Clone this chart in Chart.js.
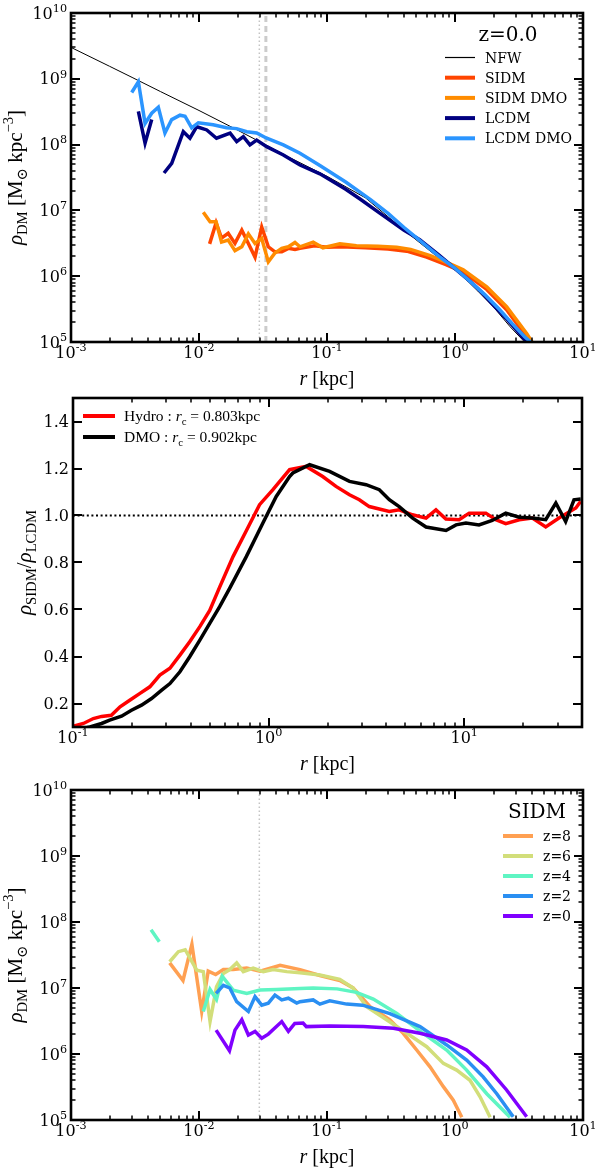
<!DOCTYPE html>
<html>
<head>
<meta charset="utf-8">
<script src="https://cdn.jsdelivr.net/npm/chart.js@4.4.0/dist/chart.umd.min.js"></script>
<style>
html, body { margin: 0; padding: 0; background: #fff; }
#wrap { position: relative; width: 595px; height: 1168px; }
canvas { position: absolute; left: 0; }
</style>
</head>
<body>
<div id="wrap">
  <canvas id="topChart" width="595" height="390" style="top:0px"></canvas>
  <canvas id="midChart" width="595" height="390" style="top:390px"></canvas>
  <canvas id="botChart" width="595" height="388" style="top:780px"></canvas>
</div>
<script>
// ---- top panel: density profiles at z=0 ----
const nfwR   = [0.001, 0.002, 0.003, 0.005, 0.01, 0.02, 0.03, 0.05, 0.1, 0.2, 0.4, 0.7, 1.0, 1.5, 2.0, 2.7, 3.5];
const nfwRho = [3.0e9, 1.55e9, 1.05e9, 6.4e8, 3.3e8, 1.66e8, 1.1e8, 6.5e7, 3.3e7, 1.55e7, 5.0e6, 2.1e6, 1.3e6, 6.0e5, 3.4e5, 1.7e5, 1.0e5];

const sidmR   = [0.0121, 0.0136, 0.0150, 0.0169, 0.0191, 0.0216, 0.0243, 0.0274, 0.0309, 0.0348, 0.0392, 0.0443, 0.0499, 0.0562, 0.0615, 0.08, 0.1, 0.13, 0.2, 0.3, 0.42, 0.6, 0.85, 1.16, 1.77, 2.53, 3.5, 3.95];
const sidmRho = [3.1e6, 6.5e6, 3.8e6, 4.5e6, 3.15e6, 5.0e6, 3.15e6, 1.95e6, 5.6e6, 2.8e6, 2.35e6, 2.35e6, 2.65e6, 2.55e6, 2.65e6, 2.9e6, 2.75e6, 2.8e6, 2.7e6, 2.6e6, 2.4e6, 1.95e6, 1.5e6, 1.15e6, 6.3e5, 3.1e5, 1.3e5, 1.0e5];

const sidmDmoR   = [0.0108, 0.0122, 0.0136, 0.0150, 0.0169, 0.0191, 0.0216, 0.0243, 0.0274, 0.0309, 0.0348, 0.0392, 0.0443, 0.0499, 0.0562, 0.0615, 0.078, 0.093, 0.126, 0.17, 0.25, 0.35, 0.45, 0.64, 0.88, 1.16, 1.77, 2.53, 3.63, 4.0];
const sidmDmoRho = [9.4e6, 6.7e6, 6.7e6, 3.3e6, 3.55e6, 2.45e6, 2.8e6, 4.4e6, 3.15e6, 3.75e6, 1.65e6, 2.25e6, 2.65e6, 2.8e6, 3.25e6, 2.8e6, 3.3e6, 2.7e6, 3.1e6, 2.9e6, 2.85e6, 2.75e6, 2.55e6, 2.05e6, 1.6e6, 1.25e6, 6.9e5, 3.45e5, 1.35e5, 1.0e5];

const lcdmR   = [0.00336, 0.00379, 0.00427, 0.0048, 0.00533, 0.00612, 0.00754, 0.0085, 0.0096, 0.0115, 0.0137, 0.0175, 0.0197, 0.0222, 0.025, 0.0282, 0.0338, 0.0456, 0.0615, 0.088, 0.14, 0.18, 0.26, 0.4, 0.53, 0.75, 1.0, 1.3, 1.6, 2.0, 2.5, 3.0, 3.65];
const lcdmRho = [3.2e8, 1.05e8, 2.4e8, null, 3.7e7, 5.2e7, 1.57e8, 1.25e8, 1.87e8, 1.67e8, 1.25e8, 1.49e8, 1.11e8, 1.32e8, 9.9e7, 1.17e8, 9.3e7, 6.95e7, 4.9e7, 3.6e7, 2.1e7, 1.5e7, 9.0e6, 5.0e6, 3.6e6, 2.1e6, 1.3e6, 8.5e5, 5.8e5, 3.6e5, 2.3e5, 1.55e5, 1.0e5];

const lcdmDmoR   = [0.00298, 0.00336, 0.00379, 0.00427, 0.00481, 0.00542, 0.00612, 0.00711, 0.00778, 0.00877, 0.00988, 0.0129, 0.0164, 0.0197, 0.0236, 0.0282, 0.0338, 0.0456, 0.0615, 0.088, 0.14, 0.22, 0.3, 0.4, 0.55, 0.75, 1.0, 1.3, 1.7, 2.2, 2.8, 3.5, 3.9];
const lcdmDmoRho = [6.2e8, 9.0e8, 2.1e8, 3.0e8, 3.7e8, 1.5e8, 2.4e8, 2.8e8, 2.7e8, 1.8e8, 2.15e8, 2.0e8, 1.8e8, 1.75e8, 1.57e8, 1.5e8, 1.25e8, 9.9e7, 7.4e7, 4.8e7, 2.7e7, 1.45e7, 9.0e6, 5.5e6, 3.3e6, 2.0e6, 1.32e6, 8.5e5, 5.3e5, 3.2e5, 1.9e5, 1.2e5, 1.0e5];

const softR1 = 0.0296;   // dotted marker
const softR2 = 0.0333;   // dashed marker

// ---- middle panel: SIDM / LCDM ratio ----
const hydroR     = [0.1005, 0.113, 0.127, 0.140, 0.157, 0.174, 0.195, 0.220, 0.247, 0.278, 0.313, 0.352, 0.395, 0.445, 0.500, 0.562, 0.658, 0.769, 0.899, 1.052, 1.28, 1.556, 1.89, 2.21, 2.59, 2.91, 3.27, 4.14, 4.65, 5.44, 6.38, 7.17, 8.06, 9.42, 10.6, 12.9, 14.5, 16.3, 19.1, 22.3, 26.1, 30.5, 37.2, 39.4];
const hydroRatio = [0.103, 0.115, 0.136, 0.145, 0.150, 0.186, 0.214, 0.243, 0.271, 0.321, 0.350, 0.406, 0.463, 0.527, 0.596, 0.695, 0.825, 0.935, 1.046, 1.110, 1.195, 1.209, 1.166, 1.124, 1.088, 1.067, 1.038, 1.017, 1.024, 1.003, 0.989, 1.024, 0.985, 0.982, 1.010, 1.010, 0.982, 0.965, 0.982, 0.989, 0.951, 0.989, 1.032, 1.060];
const dmoR       = [0.11, 0.122, 0.140, 0.154, 0.177, 0.199, 0.224, 0.252, 0.284, 0.313, 0.352, 0.395, 0.445, 0.500, 0.562, 0.632, 0.769, 0.935, 1.094, 1.28, 1.33, 1.62, 2.05, 2.59, 3.15, 3.68, 4.14, 4.65, 5.45, 6.38, 8.07, 9.08, 10.2, 11.9, 13.9, 16.3, 19.1, 22.3, 26.1, 29.4, 33.0, 36.4, 39.4];
const dmoRatio   = [0.092, 0.100, 0.115, 0.129, 0.146, 0.171, 0.193, 0.221, 0.257, 0.285, 0.335, 0.399, 0.470, 0.541, 0.612, 0.690, 0.825, 0.968, 1.081, 1.166, 1.181, 1.216, 1.188, 1.145, 1.131, 1.110, 1.067, 1.038, 0.989, 0.951, 0.936, 0.960, 0.968, 0.960, 0.979, 1.010, 0.993, 0.989, 0.982, 1.053, 0.974, 1.067, 1.070];

// ---- bottom panel: SIDM at several redshifts ----
const z8R   = [0.0059, 0.0075, 0.0088, 0.0105, 0.0118, 0.0135, 0.0155, 0.0185, 0.0236, 0.030, 0.043, 0.0615, 0.088, 0.126, 0.16, 0.217, 0.31, 0.394, 0.502, 0.638, 0.811, 0.97, 1.13];
const z8Rho = [2.4e7, 1.3e7, 4.6e7, 4.4e6, 1.8e7, 1.6e7, 1.9e7, 1.9e7, 2.0e7, 1.8e7, 2.2e7, 1.9e7, 1.55e7, 1.3e7, 1.0e7, 5.2e6, 3.3e6, 2.06e6, 1.15e6, 6.4e5, 3.2e5, 2.0e5, 1.1e5];
const z6R   = [0.0059, 0.0069, 0.0078, 0.0096, 0.0108, 0.0122, 0.0137, 0.0155, 0.0174, 0.0197, 0.0222, 0.0265, 0.0318, 0.038, 0.0484, 0.0615, 0.088, 0.126, 0.16, 0.204, 0.292, 0.42, 0.601, 0.811, 1.03, 1.31, 1.57, 1.88];
const z6Rho = [2.5e7, 3.55e7, 3.8e7, 1.86e7, 1.77e7, 3.1e6, 1.04e7, 1.66e7, 1.9e7, 2.4e7, 1.77e7, 2.0e7, 1.77e7, 1.9e7, 1.77e7, 1.7e7, 1.57e7, 1.35e7, 1.0e7, 5.2e6, 3.3e6, 2.06e6, 1.29e6, 7.2e5, 5.7e5, 4.0e5, 2.25e5, 1.1e5];
const z4R   = [0.00422, 0.0049, 0.0075, 0.0108, 0.0122, 0.0137, 0.0152, 0.0185, 0.0236, 0.030, 0.0404, 0.0615, 0.078, 0.12, 0.17, 0.23, 0.351, 0.565, 0.861, 1.233, 1.77, 2.69];
const z4Rho = [7.6e7, 5.0e7, null, 4.4e6, 9.5e6, 6.7e6, 1.5e7, 9.3e6, 8.3e6, 9.3e6, 9.5e6, 9.8e6, 1.0e7, 9.7e6, 8.6e6, 6.8e6, 4.1e6, 2.06e6, 1.15e6, 5.7e5, 2.5e5, 1.1e5];
const z2R   = [0.0136, 0.0155, 0.0174, 0.0197, 0.0243, 0.0274, 0.0309, 0.0348, 0.0392, 0.0443, 0.0499, 0.058, 0.0615, 0.078, 0.088, 0.105, 0.1425, 0.19, 0.31, 0.533, 0.861, 1.233, 1.66, 2.12, 2.85];
const z2Rho = [8.3e6, 1.1e7, 1.0e7, 6.2e6, 4.4e6, 7.4e6, 5.5e6, 5.9e6, 7.8e6, 6.6e6, 7.0e6, 5.9e6, 6.2e6, 6.6e6, 5.7e6, 6.4e6, 5.7e6, 5.5e6, 4.1e6, 2.6e6, 1.37e6, 8.1e5, 4.5e5, 2.5e5, 1.12e5];
const z0R   = [0.0136, 0.0173, 0.0191, 0.0216, 0.0243, 0.0274, 0.0309, 0.0348, 0.0443, 0.0499, 0.056, 0.065, 0.069, 0.105, 0.192, 0.33, 0.533, 0.861, 1.233, 1.77, 2.53, 3.63];
const z0Rho = [2.3e6, 1.12e6, 2.3e6, 3.3e6, 1.94e6, 2.2e6, 1.73e6, 2.0e6, 3.1e6, 2.2e6, 2.9e6, 2.95e6, 2.6e6, 2.65e6, 2.6e6, 2.45e6, 2.06e6, 1.63e6, 1.15e6, 6.4e5, 2.85e5, 1.12e5];

// ---- axis ticks ----
const rTicks = [1e-3, 1e-2, 1e-1, 1e0, 1e1];
const rhoTicks = [1e5, 1e6, 1e7, 1e8, 1e9, 1e10];
const midRTicks = [0.1, 1, 10];
const ratioTicks = [0.2, 0.4, 0.6, 0.8, 1.0, 1.2, 1.4];

const SERIF = '"DejaVu Serif", serif';
const MATH = '"Liberation Serif", "DejaVu Serif", serif';

function pts(xs, ys) { return xs.map((x, i) => ({ x: x, y: ys[i] })); }

function minorsOf(majors, maxV) {
    const out = [];
    majors.forEach(d => { for (let k = 2; k <= 9; k++) if (k * d < maxV) out.push(k * d); });
    return out;
}

function line(label, xs, ys, color, width, extra) {
    return Object.assign({
        label: label, data: pts(xs, ys), borderColor: color, backgroundColor: color,
        borderWidth: width, pointRadius: 0, fill: false, tension: 0, spanGaps: false,
        clip: 0, borderJoinStyle: 'miter'
    }, extra || {});
}

// draws a run of text pieces: {t, i (italic), s: 'sub'|'sup'}
function drawParts(ctx, parts, x, y, size, family, align) {
    const fontOf = p => {
        const sz = (p.s === 'sub' || p.s === 'sup') ? size * 0.7 : size;
        return (p.i ? 'italic ' : '') + sz.toFixed(1) + 'px ' + family;
    };
    const widths = parts.map(p => { ctx.font = fontOf(p); return ctx.measureText(p.t).width; });
    const w = widths.reduce((s, v) => s + v, 0);
    let cx = align === 'center' ? x - w / 2 : (align === 'right' ? x - w : x);
    ctx.textAlign = 'left';
    ctx.textBaseline = 'alphabetic';
    parts.forEach((p, i) => {
        ctx.font = fontOf(p);
        const dy = p.s === 'sub' ? size * 0.25 : (p.s === 'sup' ? -size * 0.42 : 0);
        ctx.fillText(p.t, cx, y + dy);
        cx += widths[i];
    });
}

function powParts(v) {
    return [{ t: '10' }, { t: String(Math.round(Math.log10(v))), s: 'sup' }];
}

const framePlugin = {
    id: 'frame',
    afterDatasetsDraw(chart, args, o) {
        const ctx = chart.ctx, a = chart.chartArea;
        const xs = chart.scales.x, ys = chart.scales.y;
        ctx.save();
        ctx.strokeStyle = '#000';
        ctx.fillStyle = '#000';

        const seg = (x1, y1, x2, y2) => { ctx.beginPath(); ctx.moveTo(x1, y1); ctx.lineTo(x2, y2); ctx.stroke(); };
        const xTicks = (vals, len) => vals.forEach(v => {
            const p = Math.round(xs.getPixelForValue(v));
            seg(p, a.bottom, p, a.bottom - len);
            seg(p, a.top, p, a.top + len);
        });
        const yTicks = (vals, len) => vals.forEach(v => {
            const p = Math.round(ys.getPixelForValue(v));
            seg(a.left, p, a.left + len, p);
            seg(a.right, p, a.right - len, p);
        });
        ctx.lineWidth = 1.5;
        xTicks(o.xMinor, 4.5);
        yTicks(o.yMinor, 4.5);
        ctx.lineWidth = 2;
        xTicks(o.xMajor, 9);
        yTicks(o.yMajor, 9);

        ctx.lineWidth = 2.6;
        ctx.strokeRect(a.left, a.top, a.right - a.left, a.bottom - a.top);

        // tick labels
        o.xMajor.forEach(v => drawParts(ctx, powParts(v), xs.getPixelForValue(v), a.bottom + 16, 16, SERIF, 'center'));
        o.yMajor.forEach(v => {
            const parts = o.yLog ? powParts(v) : [{ t: v.toFixed(1) }];
            drawParts(ctx, parts, a.left - 4, ys.getPixelForValue(v) + 5.5, 16, SERIF, 'right');
        });

        // axis titles
        drawParts(ctx, o.xTitle, (a.left + a.right) / 2, a.bottom + 43, 20, MATH, 'center');
        ctx.save();
        ctx.translate(o.yTitleX, (a.top + a.bottom) / 2);
        ctx.rotate(-Math.PI / 2);
        drawParts(ctx, o.yTitle, 0, 0, 21, MATH, 'center');
        ctx.restore();

        // legend
        const L = o.legend;
        if (L.title) drawParts(ctx, [{ t: L.title }], L.titleX, L.titleY, 20, SERIF, 'center');
        let row = 0;
        chart.data.datasets.forEach(ds => {
            if (!ds.label) return;
            const y = L.y0 + row * L.dy;
            ctx.strokeStyle = ds.borderColor;
            ctx.lineWidth = ds.legendWidth || 4;
            ctx.setLineDash([]);
            seg(L.x0, y, L.x1, y);
            ctx.fillStyle = '#000';
            drawParts(ctx, ds.labelParts || [{ t: ds.label }], L.tx, y + 5, L.size, L.family, 'left');
            row++;
        });
        ctx.restore();
    }
};

function makeChart(id, datasets, pad, xr, yr, yType, frame) {
    datasets.forEach((ds, i) => { if (ds.order === undefined) ds.order = -i; });
    return new Chart(document.getElementById(id), {
        type: 'line',
        data: { datasets: datasets },
        options: {
            responsive: false,
            animation: false,
            devicePixelRatio: 1,
            events: [],
            layout: { padding: pad },
            scales: {
                x: { type: 'logarithmic', min: xr[0], max: xr[1], display: false },
                y: { type: yType, min: yr[0], max: yr[1], display: false }
            },
            plugins: { legend: { display: false }, tooltip: { enabled: false }, frame: frame }
        },
        plugins: [framePlugin]
    });
}

const rhoTitle = [
    { t: 'ρ', i: true }, { t: 'DM', s: 'sub' }, { t: ' [M' }, { t: '⊙', s: 'sub' },
    { t: ' kpc' }, { t: '−3', s: 'sup' }, { t: ']' }
];
const rTitle = [{ t: 'r', i: true }, { t: ' [kpc]' }];

// top panel
makeChart('topChart', [
    line('', [softR1, softR1], [1e5, 1e10], '#c4c4c4', 1.5, { borderDash: [1.5, 2.5], order: 100 }),
    line('', [softR2, softR2], [1e5, 1e10], '#cccccc', 3, { borderDash: [6, 4], order: 99 }),
    line('NFW', nfwR, nfwRho, '#000000', 1, { legendWidth: 1.2 }),
    line('SIDM', sidmR, sidmRho, '#ff4500', 3.5),
    line('SIDM DMO', sidmDmoR, sidmDmoRho, '#ff8c00', 3.5),
    line('LCDM', lcdmR, lcdmRho, '#000080', 3.5),
    line('LCDM DMO', lcdmDmoR, lcdmDmoRho, '#2b95ff', 3.5)
], { left: 71, right: 12, top: 13, bottom: 48 }, [1e-3, 1e1], [1e5, 1e10], 'logarithmic', {
    xMajor: rTicks, xMinor: minorsOf(rTicks, 1e1),
    yMajor: rhoTicks, yMinor: minorsOf(rhoTicks, 1e10), yLog: true,
    xTitle: rTitle, yTitle: rhoTitle, yTitleX: 22,
    legend: { title: 'z=0.0', titleX: 508, titleY: 41, x0: 445, x1: 475, tx: 485, y0: 57.5, dy: 20.2, size: 14, family: SERIF }
});

// middle panel
makeChart('midChart', [
    line('', [0.1, 40], [1.0, 1.0], '#000000', 2, { borderDash: [2, 2.6], order: 100 }),
    line('Hydro : rc = 0.803kpc', hydroR, hydroRatio, '#ff0000', 3.5, {
        labelParts: [{ t: 'Hydro : ' }, { t: 'r', i: true }, { t: 'c', s: 'sub' }, { t: ' = 0.803kpc' }]
    }),
    line('DMO : rc = 0.902kpc', dmoR, dmoRatio, '#000000', 3.5, {
        labelParts: [{ t: 'DMO : ' }, { t: 'r', i: true }, { t: 'c', s: 'sub' }, { t: ' = 0.902kpc' }]
    })
], { left: 73, right: 13, top: 8, bottom: 53 }, [0.1, 40], [0.1, 1.5], 'linear', {
    xMajor: midRTicks, xMinor: minorsOf(midRTicks, 40),
    yMajor: ratioTicks, yMinor: [], yLog: false,
    xTitle: rTitle,
    yTitle: [{ t: 'ρ', i: true }, { t: 'SIDM', s: 'sub' }, { t: '/' }, { t: 'ρ', i: true }, { t: 'LCDM', s: 'sub' }],
    yTitleX: 31,
    legend: { title: '', x0: 83, x1: 115, tx: 124, y0: 26, dy: 21, size: 15.5, family: MATH }
});

// bottom panel
makeChart('botChart', [
    line('', [softR1, softR1], [1e5, 1e10], '#c4c4c4', 1.5, { borderDash: [1.5, 2.5], order: 100 }),
    line('z=8', z8R, z8Rho, '#ffa052', 3.5),
    line('z=6', z6R, z6Rho, '#d2de7a', 3.5),
    line('z=4', z4R, z4Rho, '#5ff5c3', 3.5),
    line('z=2', z2R, z2Rho, '#2a8ff2', 3.5),
    line('z=0', z0R, z0Rho, '#8000ff', 3.5)
], { left: 71, right: 12, top: 10, bottom: 48 }, [1e-3, 1e1], [1e5, 1e10], 'logarithmic', {
    xMajor: rTicks, xMinor: minorsOf(rTicks, 1e1),
    yMajor: rhoTicks, yMinor: minorsOf(rhoTicks, 1e10), yLog: true,
    xTitle: rTitle, yTitle: rhoTitle, yTitleX: 22,
    legend: { title: 'SIDM', titleX: 537, titleY: 38, x0: 503, x1: 533, tx: 543, y0: 56, dy: 20, size: 14, family: SERIF }
});
</script>
</body>
</html>
